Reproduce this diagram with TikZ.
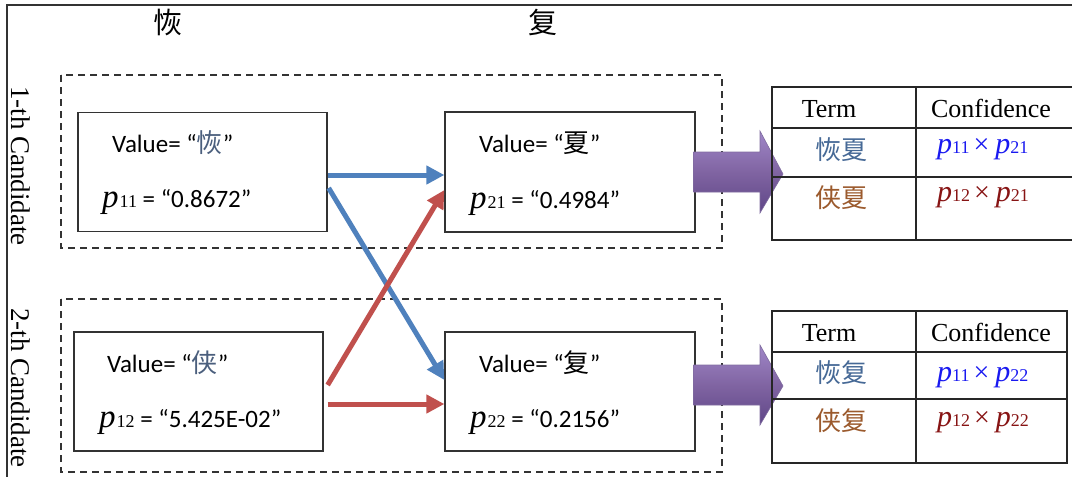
\documentclass[tikz,border=0pt]{standalone}
\usepackage{fontspec}
\setmainfont{Liberation Serif}
\newfontfamily\calib{Carlito}
\newfontfamily\cjk{Noto Sans CJK SC}
\usetikzlibrary{arrows.meta}
\definecolor{arrblue}{RGB}{79,129,189}
\definecolor{arrred}{RGB}{192,80,77}
\definecolor{pblue}{RGB}{25,25,240}
\definecolor{pred}{RGB}{135,20,20}
\definecolor{termblue}{RGB}{70,105,150}
\definecolor{termbrown}{RGB}{155,90,45}
\definecolor{valblue}{RGB}{75,95,125}
\definecolor{purpTop}{RGB}{160,135,200}
\definecolor{purpMid}{RGB}{128,100,162}
\definecolor{purpBot}{RGB}{95,70,135}
\newcommand{\myp}[1]{{\fontsize{33}{33}\selectfont\itshape p}\kern1pt{\fontsize{18}{18}\selectfont #1}}
\newcommand{\mytp}[1]{{\fontsize{30}{30}\selectfont\itshape p}{\fontsize{18}{18}\selectfont #1}}
\newcommand{\mytimes}{\kern4pt{\fontsize{28}{28}\selectfont ×}\kern6pt}
\newcommand{\valtxt}[2]{{\calib\fontsize{25}{25}\selectfont Value=\ “}{\cjk\fontsize{26}{26}\selectfont\color{#2}#1}{\calib\fontsize{25}{25}\selectfont ”}}
\newcommand{\eqtxt}[1]{{\calib\fontsize{25}{25}\selectfont\ = “#1”}}
\begin{document}
\begin{tikzpicture}[x=1pt,y=-1pt,
  valbox/.style={draw=black!80, line width=1.3pt, inner sep=0pt, minimum width=249pt, minimum height=119pt},
  candbox/.style={draw=black!80, line width=1.8pt, dash pattern=on 7pt off 5pt},
  conn/.style={line width=5pt, -{Triangle[length=18pt,width=18pt]}},
  txt/.style={anchor=base west, inner sep=0pt},
  cjktitle/.style={inner sep=0pt, font=\cjk\fontsize{29}{29}\selectfont},
  side/.style={rotate=-90, inner sep=0pt, font=\fontsize{27}{27}\selectfont},
  tabline/.style={draw=black!85, line width=1.2pt},
  bigarrow/.style={top color=purpTop, bottom color=purpBot, middle color=purpMid, draw=purpBot!80, line width=0.6pt},
  hdr/.style={anchor=base, inner sep=0pt, font=\fontsize{26}{26}\selectfont},
  term/.style={inner sep=0pt, font=\cjk\fontsize{26}{26}\selectfont}
]
\useasboundingbox (0,0) rectangle (1072,477);
% outer frame
\draw[line width=1.2pt, black!80] (7,477) -- (7,5) -- (1072,5);
% titles
\node[cjktitle] (t1) at (168,22) {恢};
\node[cjktitle] (t2) at (543,22) {复};
% side labels
\node[side] (s1) at (21,166) {1-th Candidate};
\node[side] (s2) at (21,388) {2-th Candidate};
% candidate groups
\draw[candbox] (61,75) rectangle (722,248);
\draw[candbox] (61,299) rectangle (722,472);
% value nodes
\node[valbox] (A) at (202.5,172) {};
\node[valbox, minimum width=250pt, minimum height=120pt] (B) at (570,172) {};
\node[valbox] (C) at (198.5,391.5) {};
\node[valbox, minimum width=250pt] (D) at (570,391.5) {};
% node texts
\node[txt] (Av) at (112,152) {\valtxt{恢}{valblue}};
\node[txt] (Ap) at (102,207) {\myp{11}\eqtxt{0.8672}};
\node[txt] (Bv) at (479,152) {\valtxt{夏}{black}};
\node[txt] (Bp) at (470,208) {\myp{21}\eqtxt{0.4984}};
\node[txt] (Cv) at (107,372) {\valtxt{侠}{valblue}};
\node[txt] (Cp) at (99,427) {\myp{12}\eqtxt{5.425E-02}};
\node[txt] (Dv) at (479,372) {\valtxt{复}{black}};
\node[txt] (Dp) at (470,427) {\myp{22}\eqtxt{0.2156}};
% connectors
\draw[conn, arrblue] ([yshift=-3pt]A.east) -- ([yshift=-3pt]B.west);
\draw[conn, arrblue] ([xshift=1pt,yshift=-16pt]A.east) -- ([yshift=11.5pt]D.west);
\draw[conn, arrred] ([xshift=4pt,yshift=6.5pt]C.east) -- ([yshift=-18pt]B.west);
\draw[conn, arrred] ([xshift=4pt,yshift=-12.5pt]C.east) -- ([yshift=-12.5pt]D.west);
% big arrows
\path[bigarrow] ([xshift=-2pt,yshift=20pt]B.east) -- (760,152) -- (760,131) -- (783,174) -- (760,213) -- (760,192) -- ([xshift=-2pt,yshift=-20pt]B.east) -- cycle;
\path[bigarrow] ([xshift=-2pt,yshift=26.5pt]D.east) -- (760,365) -- (760,345) -- (783,386) -- (760,425) -- (760,405) -- ([xshift=-2pt,yshift=-13.5pt]D.east) -- cycle;
% table 1
\draw[tabline] (1072,87) -- (772,87) -- (772,240) -- (1072,240);
\draw[tabline] (772,128) -- (1072,128);
\draw[tabline] (772,177) -- (1072,177);
\draw[tabline] (916,87) -- (916,240);
\node[hdr] (h1a) at (829,117) {Term};
\node[hdr] (h1b) at (991,117) {Confidence};
\node[term, termblue] (r1a) at (841,150) {恢夏};
\node[term, termbrown] (r1b) at (841,198) {侠夏};
\node[txt, pblue] (c1a) at (937,153) {\mytp{11}\mytimes\mytp{21}};
\node[txt, pred] (c1b) at (937,201) {\mytp{12}\mytimes\mytp{21}};
% table 2
\draw[tabline] (772,311) rectangle (1067,463);
\draw[tabline] (772,352) -- (1067,352);
\draw[tabline] (772,399) -- (1067,399);
\draw[tabline] (916,311) -- (916,463);
\node[hdr] (h2a) at (829,341) {Term};
\node[hdr] (h2b) at (991,341) {Confidence};
\node[term, termblue] (r2a) at (841,373) {恢复};
\node[term, termbrown] (r2b) at (841,421) {侠复};
\node[txt, pblue] (c2a) at (937,381) {\mytp{11}\mytimes\mytp{22}};
\node[txt, pred] (c2b) at (937,426) {\mytp{12}\mytimes\mytp{22}};
\end{tikzpicture}
\end{document}
